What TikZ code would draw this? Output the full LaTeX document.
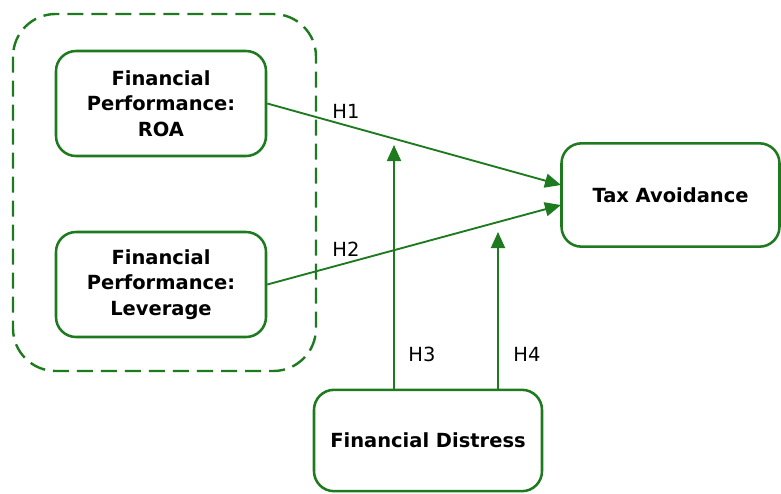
\documentclass[tikz,border=0pt]{standalone}
\usepackage{fontspec}
\setmainfont{DejaVu Sans}
\usetikzlibrary{arrows.meta}
\definecolor{dgreen}{RGB}{30,122,30}
\tikzset{
  box/.style={draw=dgreen, line width=1.9pt, rounded corners=15pt, align=center,
    font=\fontsize{14.6}{19.2}\selectfont\bfseries, inner sep=0pt},
  conn/.style={draw=dgreen, line width=1.4pt, -{Triangle[length=12pt,width=10.5pt]}},
  hlabel/.style={font=\fontsize{14.6}{16}\selectfont, inner sep=0pt}
}
\begin{document}
\begin{tikzpicture}[x=0.75pt,y=-0.75pt]
\useasboundingbox (0,0) rectangle (781,493);
% group
\draw[dgreen, line width=1.8pt, dash pattern=on 12pt off 6pt, rounded corners=32pt]
  (13,14) rectangle (316,371);
\node[box, minimum width=157.5pt, minimum height=78.75pt] (roa) at (161,103.5) {Financial\\Performance:\\ROA};
\node[box, minimum width=157.5pt, minimum height=78.75pt] (lev) at (161,284.5) {Financial\\Performance:\\Leverage};
\node[box, minimum width=163.5pt, minimum height=77.5pt] (tax) at (670.5,195) {Tax Avoidance};
\node[box, minimum width=171pt, minimum height=76pt] (dis) at (428,440.5) {Financial Distress};
\coordinate (t1) at (561,185);
\coordinate (t2) at (561,205);
\coordinate (m3) at (394,145);
\coordinate (m4) at (498,232);
\draw[conn] (roa.east) -- (t1);
\draw[conn] (lev.east) -- (t2);
\draw[conn] (dis.north -| m3) -- (m3);
\draw[conn] (dis.north -| m4) -- (m4);
\node[hlabel] (h1) at (346,111) {H1};
\node[hlabel] (h2) at (346,249) {H2};
\node[hlabel] (h3) at (422,354) {H3};
\node[hlabel] (h4) at (527,354) {H4};
\end{tikzpicture}
\end{document}
